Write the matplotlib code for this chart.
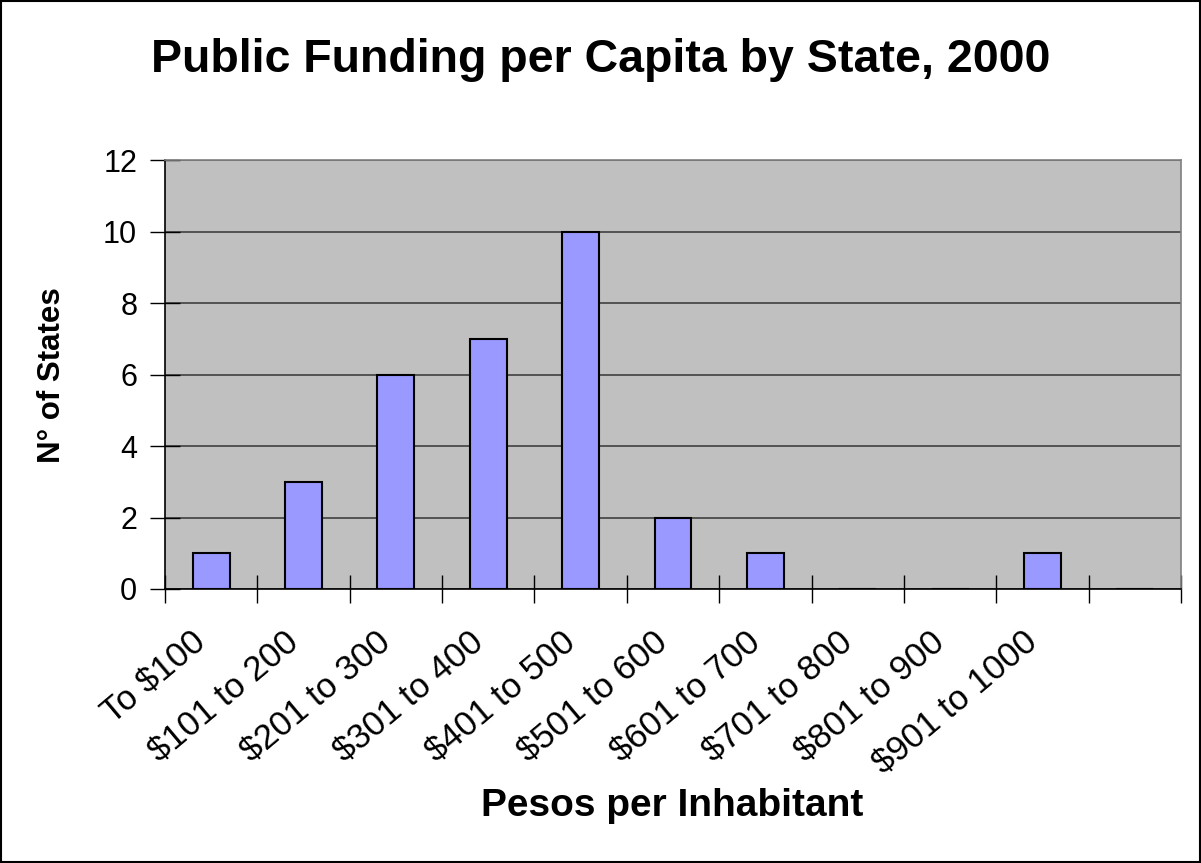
import matplotlib
matplotlib.use("Agg")
import matplotlib.pyplot as plt
from matplotlib.patches import Rectangle
from matplotlib.transforms import ScaledTranslation

# data
categories = ["To $100", "$101 to 200", "$201 to 300", "$301 to 400", "$401 to 500",
              "$501 to 600", "$601 to 700", "$701 to 800", "$801 to 900", "$901 to 1000", ""]
n_states = [1, 3, 6, 7, 10, 2, 1, 0, 0, 1, 0]
y_ticks = [0, 2, 4, 6, 8, 10, 12]

plt.rcParams['font.family'] = ['Liberation Sans', 'DejaVu Sans']

fig = plt.figure(figsize=(12.01, 8.63), dpi=100)
ax = fig.add_axes([165 / 1201, 1 - 589 / 863, (1181 - 165) / 1201, (589 - 160) / 863])
ax.set_facecolor('#C0C0C0')

x = list(range(len(categories)))
ax.bar(x, n_states, width=0.4, color='#9999FF', edgecolor='black', linewidth=1.5, zorder=3)

ax.set_xlim(-0.5, len(categories) - 0.5)
ax.set_ylim(0, 12)
ax.set_yticks(y_ticks)
ax.yaxis.grid(True, color='#404040', linewidth=1.2, zorder=1)
ax.set_axisbelow(True)

# x ticks sit between categories, labels at category centres
ax.set_xticks([i - 0.5 for i in range(len(categories) + 1)])
ax.set_xticklabels([])
ax.set_xticks(x, minor=True)
ax.set_xticklabels(categories, minor=True, rotation=40, ha='right', va='top',
                   rotation_mode='anchor', fontsize=25)
ax.tick_params(axis='x', which='minor', length=0, pad=22)
ax.tick_params(axis='x', which='major', direction='inout', length=20, width=1, color='black')
ax.tick_params(axis='y', direction='inout', length=22, width=1, color='black', labelsize=22, pad=9)

shift = ScaledTranslation(-0.20, -0.06, fig.dpi_scale_trans)
for lab in ax.get_xticklabels(minor=True):
    lab.set_transform(lab.get_transform() + shift)

for side in ['left', 'bottom']:
    ax.spines[side].set_color('black')
    ax.spines[side].set_linewidth(1.2)
for side in ['top', 'right']:
    ax.spines[side].set_color('#808080')
    ax.spines[side].set_linewidth(1.2)

fig.text(0.5, 1 - 72 / 863, "Public Funding per Capita by State, 2000",
         ha='center', va='baseline', fontsize=33.5, fontweight='bold')
fig.text(672 / 1201, 1 - 816 / 863, "Pesos per Inhabitant",
         ha='center', va='baseline', fontsize=28, fontweight='bold')
fig.text(52 / 1201, 1 - 375 / 863, "N° of States", rotation=90,
         ha='center', va='center', fontsize=22.5, fontweight='bold')

# thin frame round the whole chart
fig.patches.append(Rectangle((0.001, 0.001), 0.998, 0.998, transform=fig.transFigure,
                             fill=False, edgecolor='black', linewidth=1.5))

fig.savefig("out.png", dpi=100)
